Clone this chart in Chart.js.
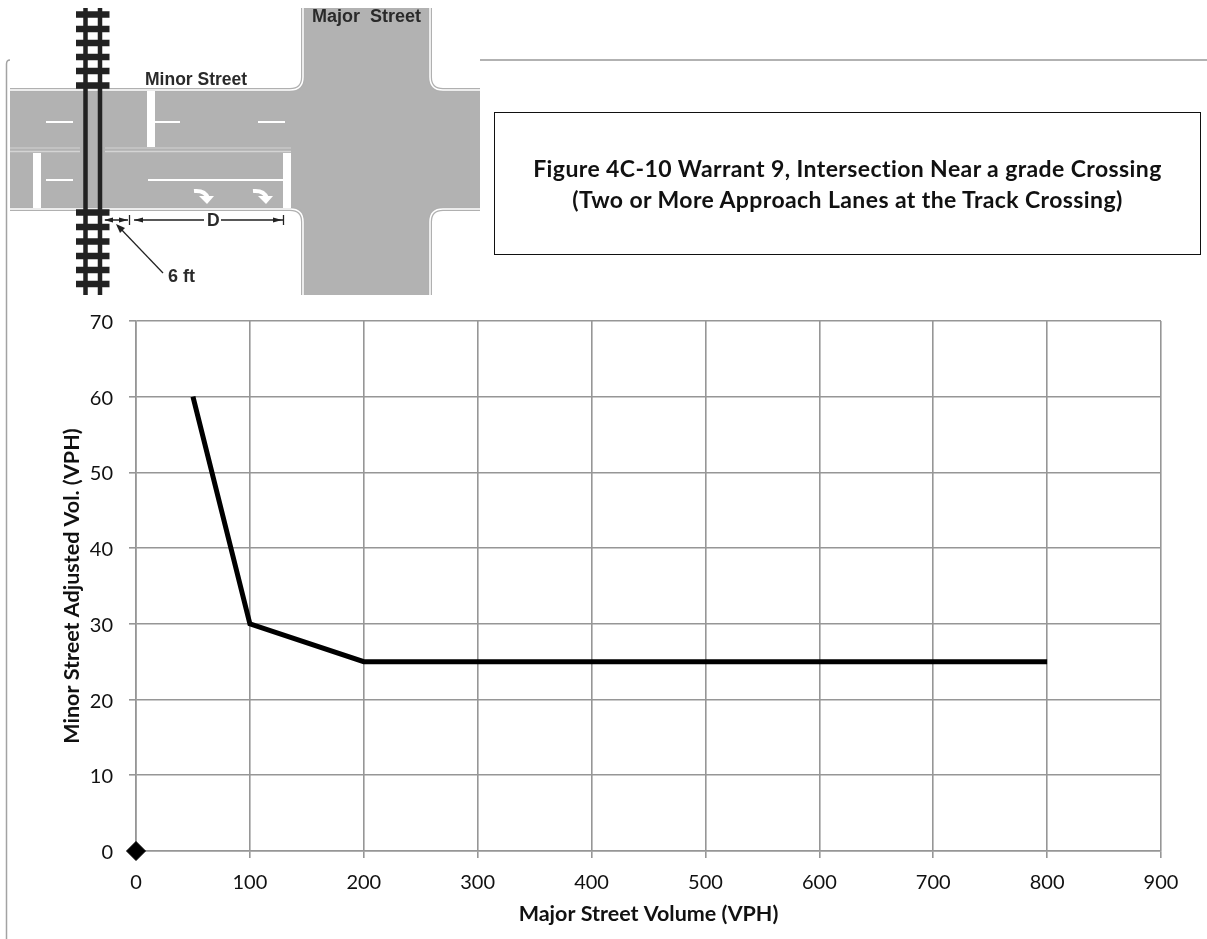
<!DOCTYPE html>
<html>
<head>
<meta charset="utf-8">
<title>Figure 4C-10 Warrant 9</title>
<script src="https://cdn.jsdelivr.net/npm/chart.js@4/dist/chart.umd.min.js"></script>
<style>
  html, body { margin: 0; padding: 0; background: #fff; }
  #page { position: relative; width: 1207px; height: 939px; overflow: hidden; }
  #chart { position: absolute; left: 0; top: 0; }
  #sketch { position: absolute; left: 0; top: 0; }
  #sketch text { font-family: "Liberation Sans", Arial, sans-serif; font-weight: bold; fill: #2b2b2b; }
  #titleBox {
    position: absolute; left: 494px; top: 112px; width: 705px; height: 141px;
    border: 1.5px solid #111; display: flex; align-items: center; justify-content: center;
    text-align: center; font: bold 23px/31px Lato, sans-serif; letter-spacing: 0.4px; color: #111;
  }
</style>
</head>
<body>
<div id="page">
  <canvas id="chart" width="1207" height="939"></canvas>

  <svg id="sketch" width="1207" height="939" viewBox="0 0 1207 939">
    <defs>
      <filter id="soft"><feGaussianBlur stdDeviation="0.55"/></filter>
    </defs>

    <!-- page frame -->
    <path d="M10 60 Q6.5 60 6.5 64 V939" fill="none" stroke="#a3a3a3" stroke-width="1.5"/>
    <path d="M480 60 H1207" fill="none" stroke="#999" stroke-width="1.5"/>

    <g filter="url(#soft)">
      <!-- roads -->
      <path d="M10 90 H290 Q303 90 303 77 V8 H430 V77 Q430 90 443 90 H480 V209 H443 Q430 209 430 222 V295 H303 V222 Q303 209 290 209 H10 Z" fill="#b2b2b2"/>
      <g fill="none" stroke="#b0b0b0" stroke-width="4">
        <path d="M10 90 H290 Q303 90 303 77 V8"/>
        <path d="M430 8 V77 Q430 90 443 90 H480"/>
        <path d="M10 209 H290 Q303 209 303 222 V295"/>
        <path d="M430 295 V222 Q430 209 443 209 H480"/>
      </g>
      <g fill="none" stroke="#fff" stroke-width="1.5">
        <path d="M10 90 H290 Q303 90 303 77 V8"/>
        <path d="M430 8 V77 Q430 90 443 90 H480"/>
        <path d="M10 209 H290 Q303 209 303 222 V295"/>
        <path d="M430 295 V222 Q430 209 443 209 H480"/>
      </g>

      <!-- lane markings -->
      <path d="M10 148 H80 M105 148 H291" stroke="#c2c2c2" stroke-width="2" fill="none"/>
      <path d="M10 151.5 H80 M105 151.5 H291" stroke="#d4d4d4" stroke-width="1.5" fill="none"/>
      <path d="M46 122 H73 M155 122 H180 M258 122 H285 M46 180 H73 M148 180 H283" stroke="#fff" stroke-width="2" fill="none"/>
      <rect x="147" y="91" width="8" height="56" fill="#fff"/>
      <rect x="33" y="153" width="8" height="55" fill="#fff"/>
      <rect x="283" y="153" width="8" height="55" fill="#fff"/>

      <!-- turn arrows -->
      <g fill="none" stroke="#fff" stroke-width="4">
        <path d="M194 191 Q205 190 208 198"/>
        <path d="M253 191 Q264 190 267 198"/>
      </g>
      <g fill="#fff">
        <path d="M199 196 L214 196 L207 204 Z"/>
        <path d="M258 196 L273 196 L266 204 Z"/>
      </g>

      <!-- track -->
      <path d="M85.5 8 V295 M100 8 V295" stroke="#222" stroke-width="4.5" fill="none"/>
      <path d="M76 14.5 H109.5 M76 29 H109.5 M76 43 H109.5 M76 57 H109.5 M76 71 H109.5 M76 85.5 H109.5 M76 212.5 H109.5 M76 227 H109.5 M76 241.5 H109.5 M76 256 H109.5 M76 270 H109.5 M76 284 H109.5" stroke="#222" stroke-width="6.5" fill="none"/>

      <!-- dimensions -->
      <g stroke="#222" stroke-width="1.3" fill="none">
        <path d="M105 220 H128 M129.5 215 V225 M134 220 H204 M221 220 H283 M283.5 215 V225"/>
        <path d="M163 273 L118 226"/>
      </g>
      <g fill="#222">
        <path d="M104 220 L113 217.5 V222.5 Z"/>
        <path d="M128 220 L119 217.5 V222.5 Z"/>
        <path d="M134 220 L143 217.5 V222.5 Z"/>
        <path d="M282 220 L273 217.5 V222.5 Z"/>
        <path d="M116 224 L125 228 L120 233 Z"/>
      </g>

      <text x="145" y="85" font-size="17.5">Minor Street</text>
      <text x="312" y="22" font-size="18" xml:space="preserve">Major  Street</text>
      <text x="207" y="226" font-size="17.5">D</text>
      <text x="168" y="282" font-size="18">6 ft</text>
    </g>
  </svg>

  <div id="titleBox">Figure 4C-10 Warrant 9, Intersection Near a grade Crossing<br>(Two or More Approach Lanes at the Track Crossing)</div>
</div>

<script>
/* =====================================
   Data
===================================== */
const majorVolume = [50, 100, 200, 800];
const minorVolume = [60, 30, 25, 25];
const markerX = [0];
const markerY = [0];

const xTicks = [0, 100, 200, 300, 400, 500, 600, 700, 800, 900];
const yTicks = [0, 10, 20, 30, 40, 50, 60, 70];

const xTitle = "Major Street Volume (VPH)";
const yTitle = "Minor Street Adjusted Vol. (VPH)";

/* =====================================
   Chart
===================================== */
const tickFont = { family: "Lato, sans-serif", size: 20 };
const titleFont = { family: "Lato, sans-serif", size: 21.5, weight: "bold" };
const gridColor = "#969696";

new Chart(document.getElementById("chart").getContext("2d"), {
  type: "scatter",
  data: {
    datasets: [
      {
        data: majorVolume.map((x, i) => ({ x, y: minorVolume[i] })),
        showLine: true,
        borderColor: "#000",
        borderWidth: 5,
        pointRadius: 0,
        tension: 0
      },
      {
        data: markerX.map((x, i) => ({ x, y: markerY[i] })),
        pointStyle: "rectRot",
        pointRadius: 9.5,
        backgroundColor: "#000",
        borderColor: "#000",
        clip: false
      }
    ]
  },
  options: {
    responsive: false,
    animation: false,
    layout: { padding: { top: 321, right: 46, left: 0, bottom: 0 } },
    plugins: { legend: { display: false }, tooltip: { enabled: false } },
    scales: {
      x: {
        type: "linear",
        min: xTicks[0],
        max: xTicks[xTicks.length - 1],
        afterBuildTicks: s => { s.ticks = xTicks.map(value => ({ value })); },
        afterFit: s => { s.height = 88; },
        grid: { color: gridColor, lineWidth: 1.6, tickLength: 7 },
        border: { color: gridColor, width: 1.6 },
        ticks: { font: tickFont, color: "#111", padding: 13, maxRotation: 0 },
        title: { display: true, text: xTitle, font: titleFont, color: "#111", padding: { top: 0, bottom: 12 } }
      },
      y: {
        type: "linear",
        min: yTicks[0],
        max: yTicks[yTicks.length - 1],
        afterBuildTicks: s => { s.ticks = yTicks.map(value => ({ value })); },
        afterFit: s => { s.width = 136; },
        grid: { color: gridColor, lineWidth: 1.6, tickLength: 7 },
        border: { color: gridColor, width: 1.6 },
        ticks: { font: tickFont, color: "#111", padding: 16, labelOffset: 1.5 },
        title: { display: true, text: yTitle, font: titleFont, color: "#111", padding: { top: 59, bottom: 0 } }
      }
    }
  }
});
</script>
</body>
</html>
